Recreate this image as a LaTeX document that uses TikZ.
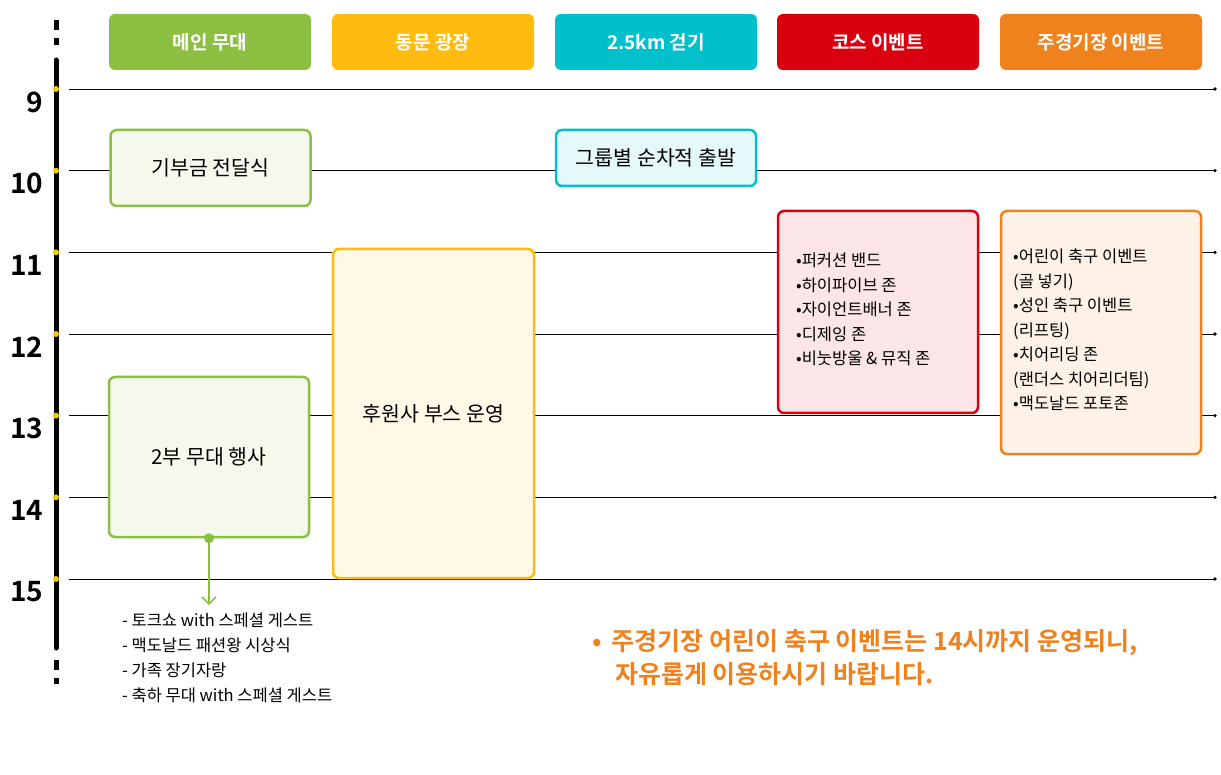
\documentclass[tikz,border=0pt]{standalone}
\usepackage{fontspec}
\setmainfont{Noto Sans CJK KR}
\newfontfamily\krbold{Noto Sans CJK KR Bold}
\usetikzlibrary{positioning,calc}
\definecolor{cgreen}{HTML}{8DBF42}
\definecolor{cyellow}{HTML}{FFBC0F}
\definecolor{ccyan}{HTML}{00C0CC}
\definecolor{cred}{HTML}{DB0010}
\definecolor{corange}{HTML}{F0821E}
\definecolor{cdot}{HTML}{F5C900}
\tikzset{
  head/.style={rounded corners=6pt, text=white, font=\krbold\fontsize{19}{22}\selectfont, minimum width=202pt, minimum height=56pt, inner sep=0pt},
  event/.style={rounded corners=6pt, line width=2.5pt, font=\fontsize{20.5}{24}\selectfont, inner sep=0pt},
  item/.style={font=\fontsize{16.5}{24.5}\selectfont, align=left, anchor=north west, inner sep=0pt}
}
\begin{document}
\begin{tikzpicture}[x=1pt,y=-1pt]
\useasboundingbox (0,0) rectangle (1221,775);
% timeline
\draw[line width=5pt, line cap=round] (56,60) -- (56,648);
\draw[line width=5pt, dash pattern=on 10pt off 8pt] (56,20) -- (56,45);
\draw[line width=5pt, dash pattern=on 10pt off 8pt] (56,660) -- (56,684);
\foreach \h [count=\i from 0] in {9,10,11,12,13,14,15} {
  \coordinate (t\h) at (56,{89+81.67*\i});
  \draw (69,{89+81.67*\i}) -- (1215,{89+81.67*\i});
  \fill (1215,{89+81.67*\i}) circle (1.8pt);
  \fill[cdot] (t\h) circle (3pt);
  \node[font=\krbold\fontsize{28}{32}\selectfont, anchor=east] (l\h) at (47,{102+81.67*\i}) {\h};
}
% headers
\node[head, fill=cgreen] (h1) at (210,42) {메인 무대};
\node[head, fill=cyellow] (h2) at (433,42) {동문 광장};
\node[head, fill=ccyan] (h3) at (656,42) {2.5km 걷기};
\node[head, fill=cred] (h4) at (878,42) {코스 이벤트};
\node[head, fill=corange] (h5) at (1101,42) {주경기장 이벤트};
% events
\node[event, draw=cgreen, fill=cgreen!10, minimum width=200pt, minimum height=76pt] (e1) at (210.5,168) {기부금 전달식};
\node[event, draw=ccyan, fill=ccyan!10, minimum width=200pt, minimum height=56pt] (e2) at (656,158) {그룹별 순차적 출발};
\node[event, draw=cyellow, fill=cyellow!10, minimum width=201pt, minimum height=329pt] (e3) at (433.5,413.5) {후원사 부스 운영};
\node[event, draw=cgreen, fill=cgreen!10, minimum width=200pt, minimum height=160pt] (e4) at (209,457) {2부 무대 행사};
\node[event, draw=cred, fill=cred!10, minimum width=200pt, minimum height=202pt] (e5) at (878,312) {};
\node[event, draw=corange, fill=corange!10, minimum width=200pt, minimum height=243pt] (e6) at (1101,332.5) {};
\node[item] (i5) at (796,253) {•퍼커션 밴드\\•하이파이브 존\\•자이언트배너 존\\•디제잉 존\\•비눗방울 \& 뮤직 존};
\node[item] (i6) at (1013,249) {•어린이 축구 이벤트\\ (골 넣기)\\•성인 축구 이벤트\\ (리프팅)\\•치어리딩 존\\ (랜더스 치어리더팀)\\•맥도날드 포토존};
% stage program
\coordinate (a1) at (209,604);
\fill[cgreen] (e4.south) circle (5pt);
\draw[cgreen, line width=1.5pt] (e4.south) -- (a1);
\draw[cgreen, line width=1.5pt] ($(a1)+(-7,-7)$) -- (a1) -- ($(a1)+(7,-7)$);
\node[item, font=\fontsize{16.5}{24.8}\selectfont] (p1) at (122,613) {- 토크쇼 with 스페셜 게스트\\- 맥도날드 패션왕 시상식\\- 가족 장기자랑\\- 축하 무대 with 스페셜 게스트};
% note
\node[item, text=corange, font=\krbold\fontsize{25}{33}\selectfont] (n1) at (592,629) {•\hspace{10pt}주경기장 어린이 축구 이벤트는 14시까지 운영되니,\\\hspace{23pt}자유롭게 이용하시기 바랍니다.};
\end{tikzpicture}
\end{document}
